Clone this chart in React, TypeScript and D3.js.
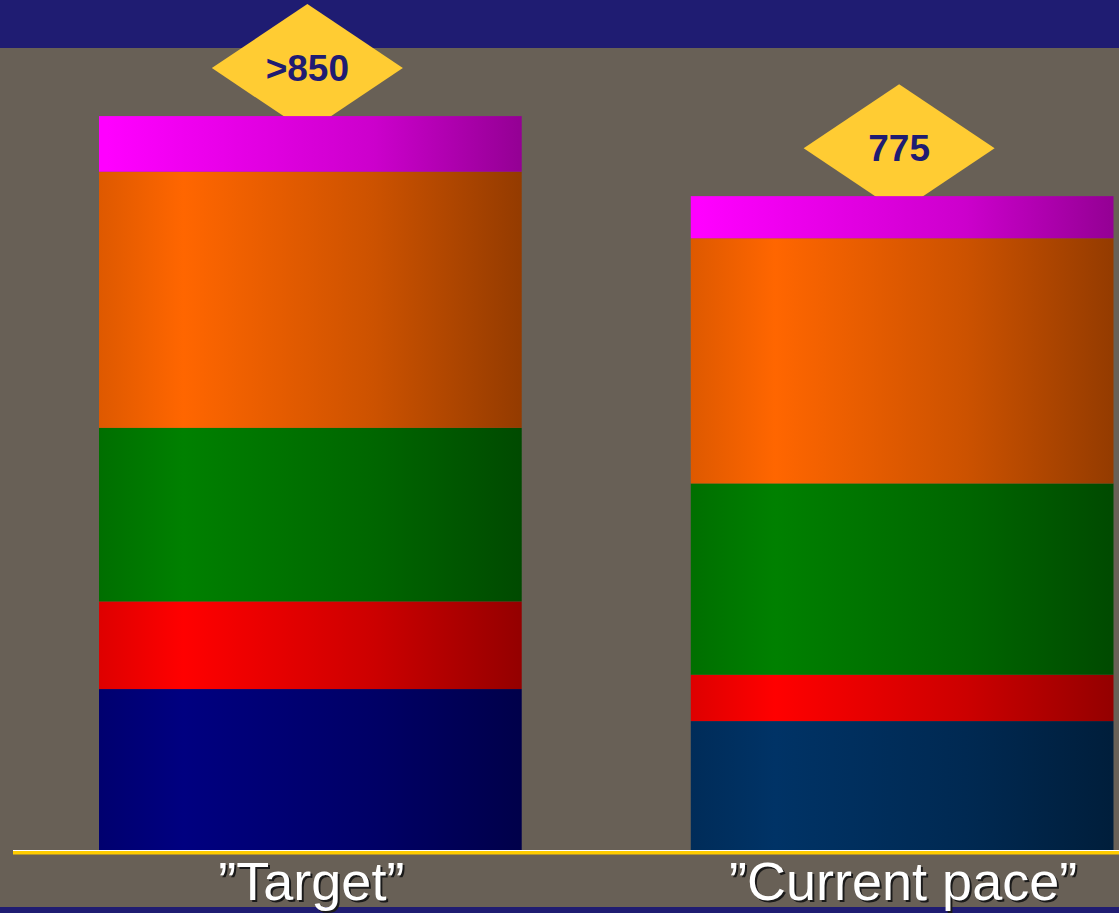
import React from "react";
import * as d3 from "d3";

const categories = ["”Target”", "”Current pace”"];
const badgeLabels = [">850", "775"];
const seriesNames = ["Base", "Segment B", "Segment C", "Segment D", "Segment E"];
// bottom-to-top stacked values per category
const seriesBase = [191, 153];
const seriesB = [104, 55];
const seriesC = [206, 227];
const seriesD = [304, 291];
const seriesE = [66, 50];
const baseColors = ["#000080", "#003366"];
const seriesColors = ["#000080", "#ff0000", "#008000", "#ff6600", "#ff00ff"];

const W = 1119;
const H = 913;

function shade(c: string, k: number) {
  const col = d3.rgb(c);
  return d3.rgb(col.r * k, col.g * k, col.b * k).formatHex();
}

export default function App() {
  const series = [seriesBase, seriesB, seriesC, seriesD, seriesE];
  const x = d3
    .scaleBand<string>()
    .domain(categories)
    .range([99, 1113.5])
    .paddingInner(0.2857)
    .paddingOuter(0);
  const y = d3.scaleLinear().domain([0, 1000]).range([850, 7.4]);

  const rects: any[] = [];
  const grads: any[] = [];
  categories.forEach((cat, ci) => {
    let acc = 0;
    series.forEach((s, si) => {
      const v = s[ci];
      const color = si === 0 ? baseColors[ci] : seriesColors[si];
      const id = `g-${ci}-${si}`;
      const isMag = si === 4;
      grads.push(
        <linearGradient key={id} id={id} x1="0" x2="1" y1="0" y2="0">
          <stop offset="0" stopColor={isMag ? color : shade(color, 0.87)} />
          <stop offset={isMag ? "0.02" : "0.2"} stopColor={color} />
          <stop offset="0.65" stopColor={shade(color, 0.8)} />
          <stop offset="1" stopColor={shade(color, 0.58)} />
        </linearGradient>
      );
      rects.push(
        <rect
          key={id}
          x={x(cat)}
          width={x.bandwidth()}
          y={y(acc + v)}
          height={y(acc) - y(acc + v)}
          fill={`url(#${id})`}
        />
      );
      acc += v;
    });
  });

  const totals = categories.map((_, ci) => series.reduce((a, s) => a + s[ci], 0));

  return (
    <div style={{ position: "absolute", left: 0, top: 0 }}>
      <svg width={W} height={H} style={{ display: "block" }}>
        <defs>{grads}</defs>
        <rect x={0} y={0} width={W} height={H} fill="#686056" />
        <rect x={0} y={0} width={W} height={48} fill="#1f1c72" />
        <rect x={0} y={907} width={W} height={H - 907} fill="#1f1c72" />
        {categories.map((cat, ci) => {
          const cx = (x(cat) as number) + x.bandwidth() / 2 - 3;
          const cy = y(totals[ci]) - 48;
          const hw = 95.5;
          const hh = 64;
          return (
            <g key={"b" + ci}>
              <polygon
                points={`${cx - hw},${cy} ${cx},${cy - hh} ${cx + hw},${cy} ${cx},${cy + hh}`}
                fill="#ffcc33"
              />
              <text
                x={cx}
                y={cy + 13}
                textAnchor="middle"
                fontFamily="'Liberation Sans', Arial, sans-serif"
                fontWeight="bold"
                fontSize={37}
                fill="#1f1c72"
              >
                {badgeLabels[ci]}
              </text>
            </g>
          );
        })}
        {rects}
        <rect x={13} y={850} width={W - 13} height={1} fill="#ffffff" />
        <rect x={13} y={851} width={W - 13} height={3.5} fill="#ffcc00" />
        {categories.map((cat, ci) => {
          const cx = (x(cat) as number) + x.bandwidth() / 2 + 1;
          return (
            <g key={"l" + ci} fontFamily="'Liberation Sans', Arial, sans-serif" fontSize={54} textAnchor="middle">
              <text x={cx + 2} y={900 + 2} fill="#1a1a1a">
                {cat}
              </text>
              <text x={cx} y={900} fill="#ffffff">
                {cat}
              </text>
            </g>
          );
        })}
      </svg>
    </div>
  );
}
